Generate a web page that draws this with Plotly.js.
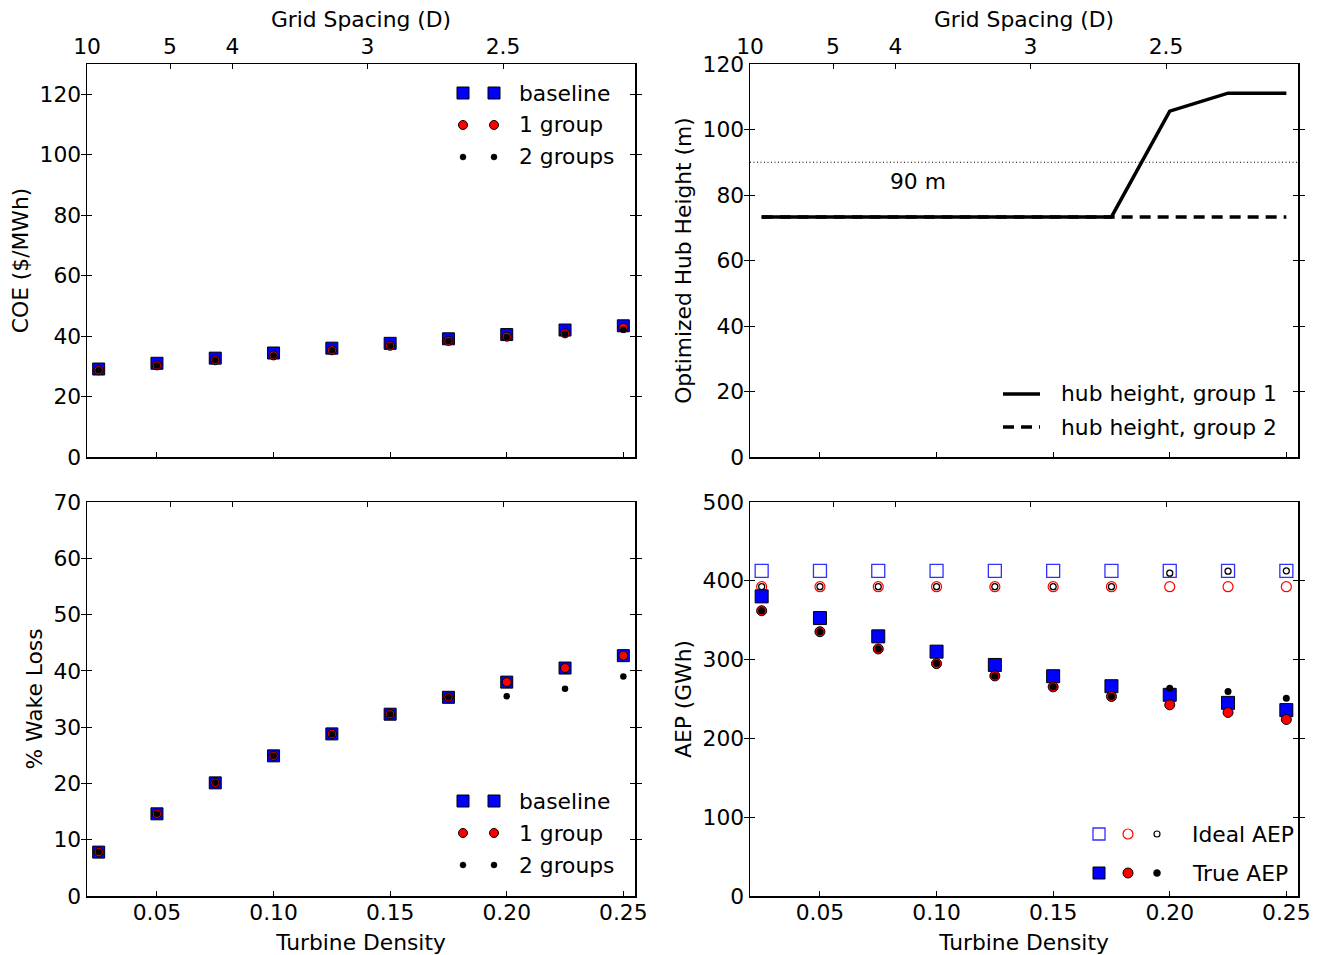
<!DOCTYPE html>
<html>
<head>
<meta charset="utf-8">
<script src="https://cdn.plot.ly/plotly-3.0.1.min.js"></script>
<style>html,body{margin:0;padding:0;background:#fff;}#chart{width:1321px;height:955px;}</style>
</head>
<body>
<div id="chart"></div>
<script>
// ---------------- DATA ----------------
const density = [0.025, 0.05, 0.075, 0.10, 0.125, 0.15, 0.175, 0.20, 0.225, 0.25];
const densityTicks = [0.05, 0.10, 0.15, 0.20, 0.25];
const densityTickText = ['0.05', '0.10', '0.15', '0.20', '0.25'];
const gridSpacingText = ['10', '5', '4', '3', '2.5'];
const gridSpacingPos = [0.02, 0.0556, 0.0824, 0.1403, 0.1984];

const coeBaseline = [29.1, 31.0, 32.7, 34.4, 36.0, 37.6, 39.1, 40.5, 42.0, 43.4];
const coeOneGroup = [28.7, 30.3, 32.0, 33.6, 35.3, 36.8, 38.4, 39.8, 40.9, 42.7];
const coeTwoGroups = [28.7, 30.3, 32.0, 33.6, 35.3, 36.8, 38.4, 39.7, 40.8, 42.1];

const hubGroup1 = [73.3, 73.3, 73.3, 73.3, 73.3, 73.3, 73.3, 105.6, 111.1, 111.1];
const hubGroup2 = [73.3, 73.3, 73.3, 73.3, 73.3, 73.3, 73.3, 73.3, 73.3, 73.3];
const refHubHeight = 90;

const wakeBaseline = [7.8, 14.6, 20.1, 24.9, 28.8, 32.3, 35.3, 38.0, 40.5, 42.7];
const wakeOneGroup = [7.8, 14.6, 20.1, 24.9, 28.8, 32.3, 35.3, 38.0, 40.5, 42.7];
const wakeTwoGroups = [7.8, 14.6, 20.1, 24.9, 28.8, 32.3, 35.3, 35.5, 36.8, 39.0];

const idealBaseline = [412.5, 412.5, 412.5, 412.5, 412.5, 412.5, 412.5, 412.5, 412.5, 412.5];
const idealOneGroup = [392.5, 392.5, 392.5, 392.5, 392.5, 392.5, 392.5, 392.5, 392.5, 392.5];
const idealTwoGroups = [392.5, 392.5, 392.5, 392.5, 392.5, 392.5, 392.5, 409.7, 412.2, 412.7];
const trueBaseline = [380.2, 352.7, 329.5, 310.1, 293.2, 278.9, 266.2, 255.3, 245.1, 235.9];
const trueOneGroup = [362.0, 335.4, 313.5, 294.9, 279.3, 265.4, 253.2, 242.6, 232.9, 224.0];
const trueTwoGroups = [362.0, 335.4, 313.5, 294.9, 279.3, 265.4, 253.2, 263.7, 259.5, 251.0];

// ---------------- STYLE ----------------
const W = 1321, H = 955;
const FONT = 'DejaVu Sans';
const FS = 21.8;
const xRange = [0.02, 0.255];
const colL = [87 / W, 635 / W], colR = [750 / W, 1298 / W];
const rowT = [1 - 457 / H, 1 - 64 / H], rowB = [1 - 896 / H, 1 - 502 / H];

const sqStyle = {symbol: 'square', size: 12, color: '#0000ff', line: {color: 'black', width: 1}};
const rdStyle = {symbol: 'circle', size: 9, color: '#ff0000', line: {color: 'black', width: 1}};
const bkStyle = {symbol: 'circle', size: 6.5, color: 'black', line: {color: 'black', width: 0}};

function pts(x, y, xa, ya, marker) {
  return {type: 'scatter', mode: 'markers', x: x, y: y, xaxis: xa, yaxis: ya,
          marker: marker, showlegend: false, hoverinfo: 'skip', cliponaxis: false};
}
function dummy(xa, ya) {
  return {type: 'scatter', mode: 'markers', x: gridSpacingPos, y: gridSpacingPos.map(() => null),
          xaxis: xa, yaxis: ya, showlegend: false, hoverinfo: 'skip'};
}

const traces = [
  // COE
  pts(density, coeBaseline, 'x', 'y', sqStyle),
  pts(density, coeOneGroup, 'x', 'y', rdStyle),
  pts(density, coeTwoGroups, 'x', 'y', bkStyle),
  // Hub height
  {type: 'scatter', mode: 'lines', x: density, y: hubGroup1, xaxis: 'x2', yaxis: 'y2',
   line: {color: 'black', width: 3.5}, showlegend: false, hoverinfo: 'skip'},
  {type: 'scatter', mode: 'lines', x: density, y: hubGroup2, xaxis: 'x2', yaxis: 'y2',
   line: {color: 'black', width: 3.5, dash: '11px,7px'}, showlegend: false, hoverinfo: 'skip'},
  // Wake loss
  pts(density, wakeBaseline, 'x3', 'y3', sqStyle),
  pts(density, wakeOneGroup, 'x3', 'y3', rdStyle),
  pts(density, wakeTwoGroups, 'x3', 'y3', bkStyle),
  // AEP ideal
  pts(density, idealBaseline, 'x4', 'y4', {symbol: 'square-open', size: 13, color: '#3030ff', line: {width: 1.3}}),
  pts(density, idealOneGroup, 'x4', 'y4', {symbol: 'circle-open', size: 10, color: '#ff0000', line: {width: 1.2}}),
  pts(density, idealTwoGroups, 'x4', 'y4', {symbol: 'circle-open', size: 6, color: 'black', line: {width: 1.3}}),
  // AEP true
  pts(density, trueBaseline, 'x4', 'y4', {symbol: 'square', size: 13, color: '#0000ff', line: {color: 'black', width: 1}}),
  pts(density, trueOneGroup, 'x4', 'y4', {symbol: 'circle', size: 10, color: '#ff0000', line: {color: 'black', width: 1}}),
  pts(density, trueTwoGroups, 'x4', 'y4', {symbol: 'circle', size: 7, color: 'black', line: {width: 0}}),
  dummy('x5', 'y'), dummy('x6', 'y2'), dummy('x7', 'y3'), dummy('x8', 'y4')
];

const tickFont = {family: FONT, size: FS, color: 'black'};
const titleFont = {family: FONT, size: FS, color: 'black'};

function xBase(domain, anchor, labels, title) {
  return {domain: domain, anchor: anchor, range: xRange, showline: true, linecolor: 'black', linewidth: 1.5,
          mirror: true, ticks: 'inside', ticklen: 5, tickwidth: 1, tickcolor: 'black',
          tickmode: 'array', tickvals: densityTicks, ticktext: densityTickText,
          ticklabelstandoff: -4,
          showticklabels: labels, showgrid: false, zeroline: false, tickfont: tickFont,
          title: {text: title || '', font: titleFont}, fixedrange: true};
}
function xTop(over, anchor, labels) {
  return {overlaying: over, anchor: anchor, side: 'top', range: xRange, showline: false,
          ticks: 'inside', ticklen: 5, tickwidth: 1, tickcolor: 'black',
          tickmode: 'array', tickvals: gridSpacingPos, ticktext: gridSpacingText,
          ticklabelstandoff: 5,
          showticklabels: labels, showgrid: false, zeroline: false, tickfont: tickFont,
          title: {text: labels ? 'Grid Spacing (D)' : '', font: titleFont, standoff: 0}, fixedrange: true};
}
function yAx(domain, anchor, range, dtick, title) {
  return {domain: domain, anchor: anchor, range: range, dtick: dtick, tick0: 0, showline: true,
          linecolor: 'black', linewidth: 1.5, mirror: 'allticks', ticks: 'inside', ticklen: 5,
          tickwidth: 1, tickcolor: 'black', showgrid: false, zeroline: false, tickfont: tickFont,
          title: {text: title, font: titleFont, standoff: 5}, fixedrange: true};
}

// ---------- legend glyphs (pixel-sized shapes at paper anchors) ----------
const shapes = [];
const annotations = [];
function glyph(type, px, py, half, fill, lineColor, lineW) {
  shapes.push({type: type, xref: 'paper', yref: 'paper', xsizemode: 'pixel', ysizemode: 'pixel',
               xanchor: px / W, yanchor: 1 - py / H, x0: -half, x1: half, y0: -half, y1: half,
               fillcolor: fill, line: {color: lineColor, width: lineW}});
}
function legText(txt, px, py) {
  annotations.push({text: txt, xref: 'paper', yref: 'paper', x: px / W, y: 1 - py / H,
                    xanchor: 'left', yanchor: 'middle', showarrow: false, font: tickFont});
}
function threeRowLegend(yRows) {
  const labels = ['baseline', '1 group', '2 groups'];
  [463, 494].forEach(px => {
    glyph('rect', px, yRows[0], 6, '#0000ff', 'black', 1);
    glyph('circle', px, yRows[1], 4.5, '#ff0000', 'black', 1);
    glyph('circle', px, yRows[2], 3, 'black', 'black', 0.5);
  });
  labels.forEach((t, i) => legText(t, 517, yRows[i]));
}
threeRowLegend([93, 125, 157]);
threeRowLegend([801, 833, 865]);

// hub height legend
shapes.push({type: 'line', xref: 'paper', yref: 'paper', x0: 1003 / W, x1: 1040 / W, y0: 1 - 394 / H, y1: 1 - 394 / H,
             line: {color: 'black', width: 3.5}});
shapes.push({type: 'line', xref: 'paper', yref: 'paper', x0: 1003 / W, x1: 1040 / W, y0: 1 - 427 / H, y1: 1 - 427 / H,
             line: {color: 'black', width: 3.5, dash: '11px,7px'}});
legText('hub height, group 1', 1059, 394);
legText('hub height, group 2', 1059, 427);

// 90 m reference line
shapes.push({type: 'line', xref: 'x2 domain', yref: 'y2', x0: 0, x1: 1, y0: refHubHeight, y1: refHubHeight,
             line: {color: 'black', width: 1, dash: '1px,2.5px'}});
annotations.push({text: refHubHeight + ' m', xref: 'x2', yref: 'y2', x: 0.079, y: 84, xanchor: 'left',
                  yanchor: 'middle', showarrow: false, font: tickFont});

// AEP legend
glyph('rect', 1099, 834, 6, 'rgba(0,0,0,0)', '#3030ff', 1.3);
glyph('circle', 1128, 834, 5, 'rgba(0,0,0,0)', '#ff0000', 1.2);
glyph('circle', 1157, 834, 3, 'rgba(0,0,0,0)', 'black', 1.2);
glyph('rect', 1099, 873, 6, '#0000ff', 'black', 1);
glyph('circle', 1128, 873, 5, '#ff0000', 'black', 1);
glyph('circle', 1157, 873, 3.5, 'black', 'black', 0.5);
legText('Ideal AEP', 1190, 834);
legText('True AEP', 1190, 873);

const layout = {
  width: W, height: H, margin: {l: 0, r: 0, t: 0, b: 0},
  paper_bgcolor: 'white', plot_bgcolor: 'white', showlegend: false,
  font: {family: FONT, color: 'black'},
  xaxis: xBase(colL, 'y', false),
  yaxis: yAx(rowT, 'x', [0, 130], 20, 'COE ($/MWh)'),
  xaxis2: xBase(colR, 'y2', false),
  yaxis2: yAx(rowT, 'x2', [0, 120], 20, 'Optimized Hub Height (m)'),
  xaxis3: xBase(colL, 'y3', true, 'Turbine Density'),
  yaxis3: yAx(rowB, 'x3', [0, 70], 10, '% Wake Loss'),
  xaxis4: xBase(colR, 'y4', true, 'Turbine Density'),
  yaxis4: yAx(rowB, 'x4', [0, 500], 100, 'AEP (GWh)'),
  xaxis5: xTop('x', 'y', true),
  xaxis6: xTop('x2', 'y2', true),
  xaxis7: xTop('x3', 'y3', false),
  xaxis8: xTop('x4', 'y4', false),
  shapes: shapes,
  annotations: annotations
};

Plotly.newPlot('chart', traces, layout, {staticPlot: true, displayModeBar: false});
</script>
</body>
</html>
